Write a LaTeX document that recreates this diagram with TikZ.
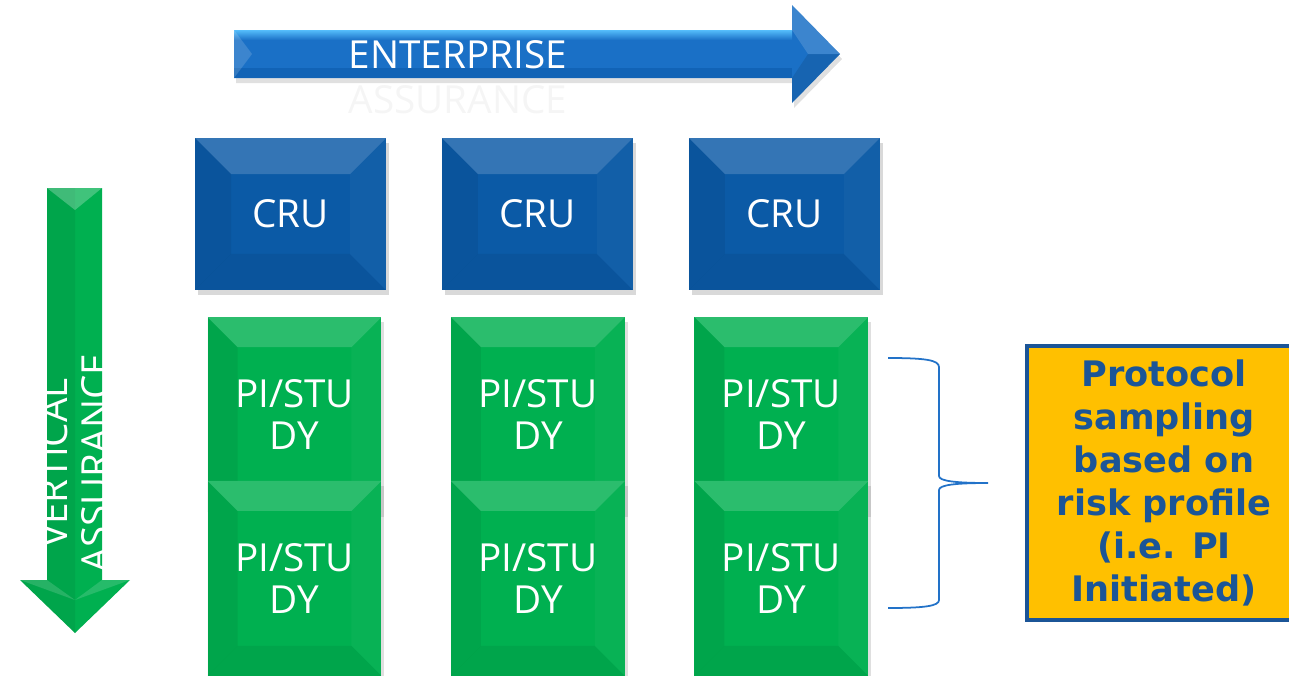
\documentclass[tikz,border=0pt]{standalone}
\usepackage{fontspec}
\setmainfont{Open Sans}
\newfontfamily\notefont{DejaVu Sans}
\usetikzlibrary{positioning, shadows}

\definecolor{crublue}{HTML}{0B5AA6}
\definecolor{studygreen}{HTML}{00B050}
\definecolor{arrowlight}{HTML}{55BDFB}
\definecolor{arrowblue}{HTML}{1A70C6}
\definecolor{arrowdark}{HTML}{1163B6}
\definecolor{bracketblue}{HTML}{2272C8}
\definecolor{notegold}{HTML}{FFC000}
\definecolor{noteblue}{HTML}{1B5597}

\tikzset{
  bevel/.style={path picture={
    \fill[white,opacity=.17] (path picture bounding box.north west) -- (path picture bounding box.north east)
      -- ([xshift=-#1,yshift=-#1]path picture bounding box.north east) -- ([xshift=#1,yshift=-#1]path picture bounding box.north west) -- cycle;
    \fill[black,opacity=.06] (path picture bounding box.north west) -- ([xshift=#1,yshift=-#1]path picture bounding box.north west)
      -- ([xshift=#1,yshift=#1]path picture bounding box.south west) -- (path picture bounding box.south west) -- cycle;
    \fill[white,opacity=.03] (path picture bounding box.north east) -- ([xshift=-#1,yshift=-#1]path picture bounding box.north east)
      -- ([xshift=-#1,yshift=#1]path picture bounding box.south east) -- (path picture bounding box.south east) -- cycle;
    \fill[black,opacity=.06] (path picture bounding box.south west) -- (path picture bounding box.south east)
      -- ([xshift=-#1,yshift=#1]path picture bounding box.south east) -- ([xshift=#1,yshift=#1]path picture bounding box.south west) -- cycle;
  }},
  label/.style={text=white, align=center, font=\fontsize{22}{24}\selectfont},
  crubox/.style={label, rectangle, fill=crublue, minimum width=3.82cm, minimum height=3.04cm, bevel=0.72cm,
    drop shadow={opacity=.3, shadow xshift=1.5pt, shadow yshift=-3pt}},
  studybox/.style={label, rectangle, fill=studygreen, minimum width=3.48cm, minimum height=3.9cm, bevel=0.6cm,
    drop shadow={opacity=.25, shadow xshift=1.5pt, shadow yshift=-3pt}},
  notebox/.style={rectangle, fill=notegold, draw=noteblue, line width=2.3pt, minimum width=5.5cm, minimum height=5.5cm,
    text=noteblue, align=center, font=\notefont\bfseries\fontsize{20}{24.4}\selectfont},
  brace/.style={draw=bracketblue, line width=1pt}
}

\begin{document}
\begin{tikzpicture}[x=0.02cm,y=-0.02cm,on grid]
\useasboundingbox (0,0) rectangle (1289,676);

% enterprise arrow
\fill[black,opacity=.12] (236,35) -- (794,35) -- (794,10) -- (842,59) -- (794,108) -- (794,83) -- (236,83) -- cycle;
\fill[arrowblue] (234,30) -- (792,30) -- (792,5) -- (840,54) -- (792,103) -- (792,78) -- (234,78) -- cycle;
\shade[top color=arrowlight, bottom color=arrowblue] (234,30) -- (792,30) -- (792,40) -- (234,40) -- cycle;
\fill[arrowdark] (234,68) -- (792,68) -- (792,78) -- (234,78) -- cycle;
\fill[white,opacity=.15] (234,30) -- (252,54) -- (234,78) -- cycle;
\fill[white,opacity=.15] (792,5) -- (840,54) -- (808,54) -- (792,30) -- cycle;
\fill[black,opacity=.10] (792,103) -- (840,54) -- (808,54) -- (792,78) -- cycle;
\node[label, font=\fontsize{22}{25.5}\selectfont] (ent) at (458,77) {ENTERPRISE\\{\color{black!4}ASSURANCE}};

% vertical arrow
\fill[studygreen] (47,188) -- (102,188) -- (102,580) -- (130,580) -- (75,633) -- (20,580) -- (47,580) -- cycle;
\fill[black,opacity=.06] (47,188) -- (75,188) -- (75,633) -- (20,580) -- (47,580) -- cycle;
\fill[white,opacity=.25] (47,188) -- (102,188) -- (75,210) -- cycle;
\fill[white,opacity=.15] (20,580) -- (47,580) -- (75,600) -- cycle;
\fill[white,opacity=.15] (130,580) -- (102,580) -- (75,600) -- cycle;
\node[label, rotate=90] (vert) at (75,463) {VERTICAL\\ASSURANCE};

% CRU row
\node[crubox] (cru1) at (290.5,214) {CRU};
\node[crubox] (cru2) [right=4.94cm of cru1] {CRU};
\node[crubox] (cru3) [right=4.94cm of cru2] {CRU};

% PI/STUDY rows
\node[studybox] (pi11) at (294.5,414.5) {PI/STU\\DY};
\node[studybox] (pi12) [right=4.87cm of pi11] {PI/STU\\DY};
\node[studybox] (pi13) [right=4.87cm of pi12] {PI/STU\\DY};
\node[studybox] (pi21) [below=3.28cm of pi11] {PI/STU\\DY};
\node[studybox] (pi22) [right=4.87cm of pi21] {PI/STU\\DY};
\node[studybox] (pi23) [right=4.87cm of pi22] {PI/STU\\DY};

% brace and note
\draw[brace] (888,358) .. controls (925,358) and (939,360) .. (939,367) -- (939,476)
  .. controls (939,481) and (955,483) .. (988,483)
  .. controls (955,483) and (939,485) .. (939,490) -- (939,600)
  .. controls (939,606) and (925,608) .. (888,608);
\node[notebox] (note) at (1164,483) {Protocol\\sampling\\based on\\risk profile\\(i.e. PI\\Initiated)};
\end{tikzpicture}
\end{document}
